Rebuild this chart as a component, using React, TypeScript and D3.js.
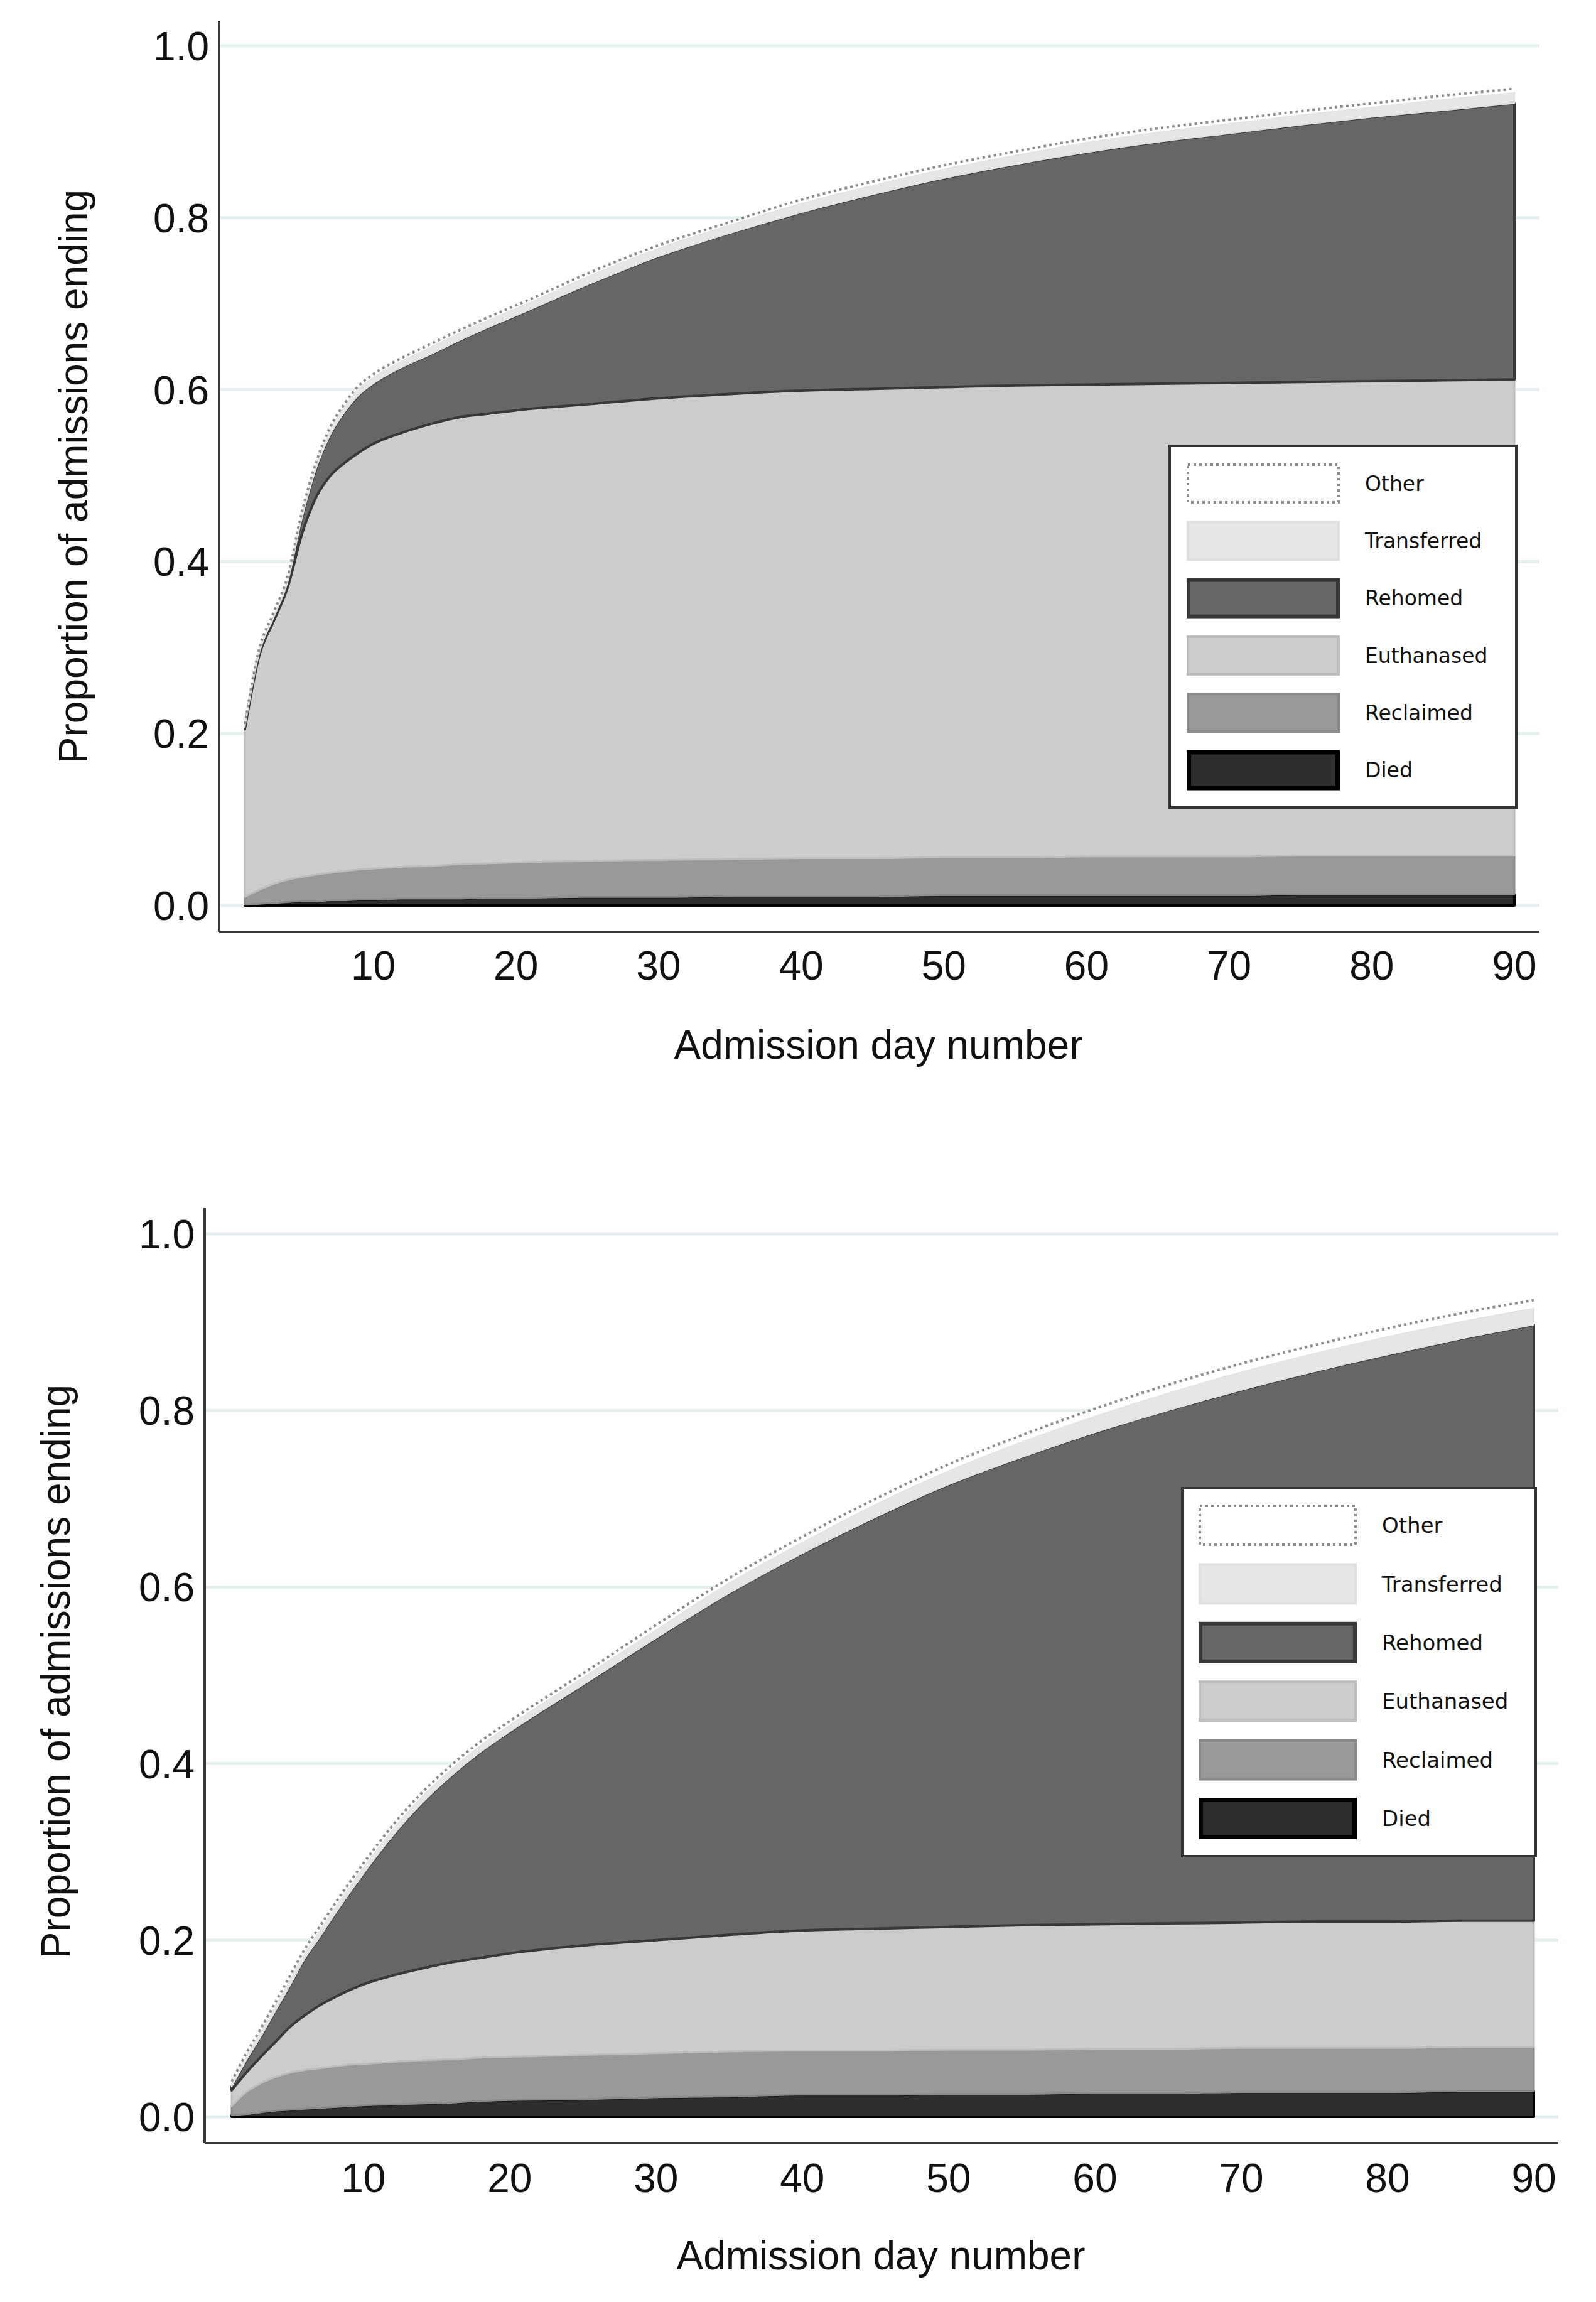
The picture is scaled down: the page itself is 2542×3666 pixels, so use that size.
import React from "react";
import * as d3 from "d3";

// ---- Data ----
const DAYS = [1, 2, 3, 4, 5, 6, 7, 8, 9, 10, 12, 14, 16, 18, 20, 25, 30, 35, 40, 45, 50, 55, 60, 65, 70, 75, 80, 85, 90];
const OUTCOMES = ["Died", "Reclaimed", "Euthanased", "Rehomed", "Transferred", "Other"];
const LEGEND_ORDER = ["Other", "Transferred", "Rehomed", "Euthanased", "Reclaimed", "Died"];
const X_TICKS = [10, 20, 30, 40, 50, 60, 70, 80, 90];
const Y_TICKS = [0, 0.2, 0.4, 0.6, 0.8, 1.0];
const X_TITLE = "Admission day number";
const Y_TITLE = "Proportion of admissions ending";

// Panel A (top) – proportion of admissions ending by each outcome
const A_DIED = [0.001, 0.002, 0.003, 0.004, 0.005, 0.005, 0.006, 0.006, 0.007, 0.007, 0.008, 0.008, 0.008, 0.009, 0.009, 0.010, 0.010, 0.011, 0.011, 0.011, 0.012, 0.012, 0.012, 0.012, 0.012, 0.013, 0.013, 0.013, 0.013];
const A_RECLAIMED = [0.009, 0.016, 0.022, 0.026, 0.028, 0.031, 0.032, 0.034, 0.035, 0.036, 0.037, 0.038, 0.040, 0.040, 0.041, 0.042, 0.043, 0.043, 0.044, 0.044, 0.044, 0.044, 0.045, 0.045, 0.045, 0.045, 0.045, 0.045, 0.045];
const A_EUTHANASED = [0.195, 0.272, 0.305, 0.340, 0.399, 0.439, 0.462, 0.475, 0.485, 0.494, 0.505, 0.514, 0.520, 0.523, 0.526, 0.531, 0.537, 0.541, 0.544, 0.546, 0.547, 0.549, 0.549, 0.550, 0.551, 0.551, 0.552, 0.553, 0.554];
const A_REHOMED = [0.002, 0.003, 0.004, 0.006, 0.018, 0.033, 0.048, 0.059, 0.067, 0.070, 0.076, 0.081, 0.089, 0.100, 0.110, 0.139, 0.165, 0.187, 0.207, 0.226, 0.243, 0.257, 0.270, 0.281, 0.290, 0.299, 0.307, 0.314, 0.321];
const A_TRANSFERRED = [0.003, 0.004, 0.004, 0.005, 0.006, 0.006, 0.007, 0.007, 0.008, 0.008, 0.008, 0.009, 0.009, 0.009, 0.009, 0.010, 0.010, 0.010, 0.011, 0.011, 0.011, 0.011, 0.012, 0.012, 0.012, 0.012, 0.012, 0.013, 0.013];
const A_OTHER = [0.001, 0.001, 0.002, 0.002, 0.002, 0.002, 0.002, 0.003, 0.003, 0.003, 0.003, 0.003, 0.003, 0.003, 0.003, 0.003, 0.003, 0.003, 0.004, 0.004, 0.004, 0.004, 0.004, 0.004, 0.004, 0.004, 0.004, 0.004, 0.004];

// Panel B (bottom)
const B_DIED = [0.002, 0.003, 0.005, 0.007, 0.008, 0.009, 0.010, 0.011, 0.012, 0.013, 0.014, 0.015, 0.016, 0.018, 0.019, 0.020, 0.022, 0.023, 0.025, 0.025, 0.026, 0.026, 0.027, 0.027, 0.028, 0.028, 0.028, 0.029, 0.029];
const B_RECLAIMED = [0.010, 0.025, 0.033, 0.038, 0.042, 0.044, 0.045, 0.046, 0.047, 0.047, 0.048, 0.049, 0.049, 0.049, 0.049, 0.050, 0.050, 0.051, 0.050, 0.050, 0.050, 0.050, 0.050, 0.050, 0.050, 0.050, 0.050, 0.050, 0.050];
const B_EUTHANASED = [0.018, 0.022, 0.030, 0.040, 0.052, 0.062, 0.071, 0.078, 0.084, 0.090, 0.098, 0.104, 0.110, 0.113, 0.117, 0.124, 0.128, 0.132, 0.136, 0.138, 0.139, 0.141, 0.141, 0.142, 0.142, 0.143, 0.143, 0.143, 0.143];
const B_REHOMED = [0.004, 0.014, 0.023, 0.035, 0.047, 0.064, 0.077, 0.093, 0.109, 0.125, 0.158, 0.187, 0.211, 0.233, 0.251, 0.295, 0.342, 0.387, 0.427, 0.466, 0.501, 0.530, 0.557, 0.581, 0.603, 0.623, 0.642, 0.659, 0.675];
const B_TRANSFERRED = [0.004, 0.005, 0.006, 0.007, 0.007, 0.007, 0.008, 0.008, 0.008, 0.008, 0.008, 0.008, 0.008, 0.008, 0.008, 0.009, 0.010, 0.012, 0.013, 0.015, 0.016, 0.018, 0.019, 0.020, 0.021, 0.021, 0.021, 0.020, 0.019];
const B_OTHER = [0.002, 0.003, 0.003, 0.003, 0.004, 0.004, 0.004, 0.004, 0.004, 0.004, 0.004, 0.004, 0.004, 0.004, 0.004, 0.004, 0.005, 0.005, 0.006, 0.006, 0.007, 0.007, 0.008, 0.009, 0.009, 0.009, 0.009, 0.009, 0.009];

// ---- Styles ----
const STYLE: Record<string, { fill: string; stroke: string; width: number; dash?: string }> = {
  Died: { fill: "#2e2e2e", stroke: "#000000", width: 4 },
  Reclaimed: { fill: "#999999", stroke: "#8a8a8a", width: 3 },
  Euthanased: { fill: "#cccccc", stroke: "#bdbdbd", width: 3 },
  Rehomed: { fill: "#666666", stroke: "#383838", width: 4 },
  Transferred: { fill: "#e6e6e6", stroke: "#e0e0e0", width: 2 },
  Other: { fill: "#ffffff", stroke: "#8c8c8c", width: 4, dash: "4 5" },
};

function buildRows(series: number[][]) {
  return DAYS.map((d, i) => {
    const row: Record<string, number> = { day: d };
    OUTCOMES.forEach((k, j) => (row[k] = series[j][i]));
    return row;
  });
}

type Layout = {
  xRange: [number, number];
  yRange: [number, number];
  axisX: number;
  axisTop: number;
  axisBottom: number;
  axisRight: number;
  yTickRight: number;
  xTickBase: number;
  xTitle: [number, number];
  yTitle: [number, number];
  legend: { x: number; y: number; w: number; h: number; sx: number; sw: number; sh: number; tx: number; ry0: number; step: number; fs: number };
};

const Panel: React.FC<{ rows: Record<string, number>[]; L: Layout }> = ({ rows, L }) => {
  const x = d3.scaleLinear().domain([1, 90]).range(L.xRange);
  const y = d3.scaleLinear().domain([0, 1]).range(L.yRange);
  const stacked = d3.stack<Record<string, number>>().keys(OUTCOMES)(rows);
  const area = d3
    .area<d3.SeriesPoint<Record<string, number>>>()
    .x((d) => x(d.data.day))
    .y0((d) => y(d[0]))
    .y1((d) => y(d[1]))
    .curve(d3.curveMonotoneX);
  const topLine = d3
    .line<d3.SeriesPoint<Record<string, number>>>()
    .x((d) => x(d.data.day))
    .y((d) => y(d[1]))
    .curve(d3.curveMonotoneX);
  const lg = L.legend;
  return (
    <g>
      {Y_TICKS.map((t) => (
        <line key={"g" + t} x1={L.axisX} x2={L.axisRight} y1={y(t)} y2={y(t)} stroke="#e6eff0" strokeWidth={5} />
      ))}
      {stacked.map((s) => {
        const st = STYLE[s.key];
        if (s.key === "Other") {
          return (
            <g key={s.key}>
              <path d={area(s) || ""} fill={st.fill} stroke="none" />
              <path d={topLine(s) || ""} fill="none" stroke={st.stroke} strokeWidth={st.width} strokeDasharray={st.dash} />
            </g>
          );
        }
        return <path key={s.key} d={area(s) || ""} fill={st.fill} stroke={st.stroke} strokeWidth={st.width} strokeLinejoin="round" />;
      })}
      <line x1={L.axisX} x2={L.axisX} y1={L.axisTop} y2={L.axisBottom} stroke="#3a3a3a" strokeWidth={4} />
      <line x1={L.axisX} x2={L.axisRight} y1={L.axisBottom} y2={L.axisBottom} stroke="#3a3a3a" strokeWidth={4} />
      {Y_TICKS.map((t) => (
        <text key={"y" + t} x={L.yTickRight} y={y(t)} dy="0.36em" textAnchor="end" fontSize={64} fontFamily="Liberation Sans, Arial, sans-serif" fill="#111">
          {t.toFixed(1)}
        </text>
      ))}
      {X_TICKS.map((t) => (
        <text key={"x" + t} x={x(t)} y={L.xTickBase} textAnchor="middle" fontSize={64} fontFamily="Liberation Sans, Arial, sans-serif" fill="#111">
          {t}
        </text>
      ))}
      <text x={L.xTitle[0]} y={L.xTitle[1]} textAnchor="middle" fontSize={64} fontFamily="Liberation Sans, Arial, sans-serif" fill="#111">
        {X_TITLE}
      </text>
      <text transform={`translate(${L.yTitle[0]},${L.yTitle[1]}) rotate(-90)`} textAnchor="middle" fontSize={64} fontFamily="Liberation Sans, Arial, sans-serif" fill="#111">
        {Y_TITLE}
      </text>
      <rect x={lg.x} y={lg.y} width={lg.w} height={lg.h} fill="#ffffff" stroke="#333" strokeWidth={4} />
      {LEGEND_ORDER.map((k, i) => {
        const st = STYLE[k];
        const cy = lg.ry0 + i * lg.step;
        const bw = k === "Died" ? 7 : k === "Rehomed" ? 6 : k === "Other" ? 4 : 4;
        return (
          <g key={"l" + k}>
            <rect
              x={lg.sx + bw / 2}
              y={cy - lg.sh / 2 + bw / 2}
              width={lg.sw - bw}
              height={lg.sh - bw}
              fill={st.fill}
              stroke={st.stroke}
              strokeWidth={bw}
              strokeDasharray={st.dash}
            />
            <text x={lg.tx} y={cy} dy="0.36em" fontSize={lg.fs} fontFamily="DejaVu Sans, Verdana, sans-serif" fill="#111">
              {k}
            </text>
          </g>
        );
      })}
    </g>
  );
};

const LAYOUT_A: Layout = {
  xRange: [390, 2412],
  yRange: [1442, 73],
  axisX: 349,
  axisTop: 33,
  axisBottom: 1484,
  axisRight: 2452,
  yTickRight: 333,
  xTickBase: 1560,
  xTitle: [1399, 1686],
  yTitle: [139, 759],
  legend: { x: 1863, y: 710, w: 552, h: 576, sx: 1890, sw: 244, sh: 64, tx: 2174, ry0: 770, step: 91.3, fs: 33 },
};

const LAYOUT_B: Layout = {
  xRange: [369, 2443],
  yRange: [3371, 1965],
  axisX: 326,
  axisTop: 1923,
  axisBottom: 3413,
  axisRight: 2482,
  yTickRight: 310,
  xTickBase: 3491,
  xTitle: [1403, 3614],
  yTitle: [111, 2662],
  legend: { x: 1883, y: 2370, w: 563, h: 586, sx: 1909, sw: 252, sh: 66, tx: 2201, ry0: 2429, step: 93.4, fs: 34 },
};

export default function App() {
  const rowsA = buildRows([A_DIED, A_RECLAIMED, A_EUTHANASED, A_REHOMED, A_TRANSFERRED, A_OTHER]);
  const rowsB = buildRows([B_DIED, B_RECLAIMED, B_EUTHANASED, B_REHOMED, B_TRANSFERRED, B_OTHER]);
  return (
    <svg width={2542} height={3666} style={{ position: "absolute", left: 0, top: 0, background: "#fff" }}>
      <rect width={2542} height={3666} fill="#fff" />
      <Panel rows={rowsA} L={LAYOUT_A} />
      <Panel rows={rowsB} L={LAYOUT_B} />
    </svg>
  );
}
